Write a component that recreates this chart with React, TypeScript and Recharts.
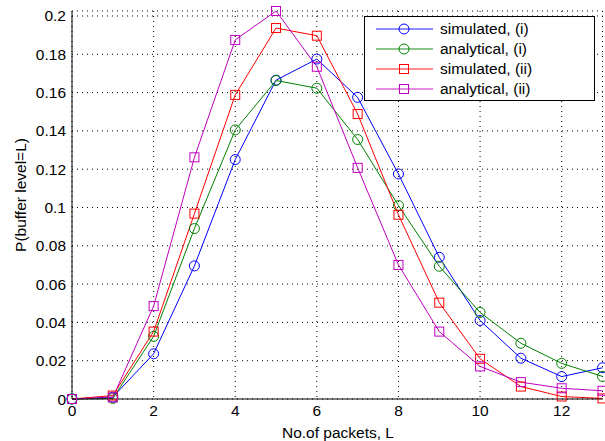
import React from "react";
import { LineChart, Line, XAxis, YAxis, CartesianGrid, Legend } from "recharts";

const packets = [0, 1, 2, 3, 4, 5, 6, 7, 8, 9, 10, 11, 12, 13];
const simulatedI = [0, 0.001, 0.0236, 0.0695, 0.125, 0.1665, 0.1775, 0.1575, 0.1175, 0.074, 0.041, 0.0213, 0.0117, 0.0163];
const analyticalI = [0, 0.0003, 0.0327, 0.089, 0.1405, 0.1663, 0.1623, 0.1355, 0.101, 0.0693, 0.0452, 0.0291, 0.0186, 0.0118];
const simulatedII = [0, 0.0018, 0.0352, 0.0968, 0.1588, 0.1937, 0.1897, 0.1488, 0.0962, 0.0503, 0.021, 0.0065, 0.0013, 0.0003];
const analyticalII = [0, 0.0008, 0.0485, 0.1262, 0.1875, 0.2026, 0.1735, 0.1207, 0.07, 0.0352, 0.017, 0.0088, 0.0056, 0.0043];

const xTicks = [0, 2, 4, 6, 8, 10, 12];
const yTicks = [0, 0.02, 0.04, 0.06, 0.08, 0.1, 0.12, 0.14, 0.16, 0.18, 0.2];

// minor tick positions (axis decoration only)
const minorX: number[] = [];
for (let i = 0; i <= 32; i++) minorX.push(Math.round(i * 0.4 * 100) / 100);
const minorY: number[] = [];
for (let i = 0; i <= 50; i++) minorY.push(Math.round(i * 0.004 * 1000) / 1000);

const data = packets.map((L, i) => ({
  L,
  simI: simulatedI[i],
  anaI: analyticalI[i],
  simII: simulatedII[i],
  anaII: analyticalII[i],
}));

const SERIES = [
  { key: "simI", name: "simulated, (i)", color: "#0000ff", marker: "circle" },
  { key: "anaI", name: "analytical, (i)", color: "#008000", marker: "circle" },
  { key: "simII", name: "simulated, (ii)", color: "#ff0000", marker: "square" },
  { key: "anaII", name: "analytical, (ii)", color: "#bf00bf", marker: "square" },
];

const FONT = "'Liberation Sans', Arial, sans-serif";

function marker(kind: string, color: string) {
  return (props: any) => {
    const { cx, cy, index } = props;
    if (cx == null || cy == null) return <g key={index} />;
    if (kind === "circle") {
      return <circle key={index} cx={cx} cy={cy} r={5} fill="none" stroke={color} strokeWidth={1} />;
    }
    return <rect key={index} x={cx - 4.5} y={cy - 4.5} width={9} height={9} fill="none" stroke={color} strokeWidth={1} />;
  };
}

const NoLabel = () => <g />;

function LegendBox() {
  return (
    <div
      style={{
        position: "relative",
        width: 231,
        height: 85,
        boxSizing: "border-box",
        border: "1.5px solid #000",
        background: "#fff",
        fontFamily: FONT,
        fontSize: 15.5,
        color: "#000",
      }}
    >
      {SERIES.map((s, i) => (
        <div key={s.key} style={{ position: "absolute", left: 10, top: 2 + i * 20, height: 20, display: "flex", alignItems: "center" }}>
          <svg width={60} height={20} style={{ display: "block" }}>
            <line x1={1} y1={10} x2={58} y2={10} stroke={s.color} strokeWidth={1.5} strokeOpacity={0.6} />
            {s.marker === "circle" ? (
              <circle cx={29} cy={10} r={5} fill="none" stroke={s.color} />
            ) : (
              <rect x={24.5} y={5.5} width={9} height={9} fill="none" stroke={s.color} />
            )}
          </svg>
          <span style={{ marginLeft: 5, lineHeight: "20px", whiteSpace: "nowrap" }}>{s.name}</span>
        </div>
      ))}
    </div>
  );
}

export default function App() {
  return (
    <div style={{ position: "absolute", left: 0, top: 0, width: 605, height: 441, background: "#fff" }}>
      <LineChart width={605} height={441} data={data} margin={{ top: 11, right: 2.5, bottom: 0, left: 0 }}>
        <CartesianGrid stroke="#000" strokeDasharray="1 4" strokeWidth={1} />
        <XAxis
          dataKey="L"
          type="number"
          domain={[0, 13]}
          ticks={xTicks}
          height={42}
          stroke="#000"
          tickLine={false}
          tickMargin={0}
          tick={{ fill: "#000", fontSize: 15.5, fontFamily: FONT }}
        />
        <XAxis
          xAxisId="minor"
          dataKey="L"
          type="number"
          domain={[0, 13]}
          ticks={minorX}
          interval={0}
          height={0}
          mirror
          axisLine={false}
          tick={NoLabel}
          tickSize={3}
          tickLine={{ stroke: "#000", strokeWidth: 1 }}
        />
        <YAxis
          type="number"
          domain={[0, 0.2026]}
          ticks={yTicks}
          width={72}
          stroke="#000"
          tickLine={false}
          tickMargin={0}
          tickFormatter={(v: number) => String(v)}
          tick={{ fill: "#000", fontSize: 15.5, fontFamily: FONT }}
        />
        <YAxis
          yAxisId="minor"
          type="number"
          domain={[0, 0.2026]}
          ticks={minorY}
          interval={0}
          width={0}
          mirror
          axisLine={false}
          tick={NoLabel}
          tickSize={3}
          tickLine={{ stroke: "#000", strokeWidth: 1 }}
        />
        <Legend verticalAlign="middle" align="center" wrapperStyle={{ left: 364, top: 16, width: 231 }} content={() => <LegendBox />} />
        {SERIES.map((s) => (
          <Line
            key={s.key}
            type="linear"
            dataKey={s.key}
            name={s.name}
            stroke={s.color}
            strokeWidth={1}
            dot={marker(s.marker, s.color)}
            activeDot={false}
            isAnimationActive={false}
          />
        ))}
        <text x={338} y={438} textAnchor="middle" fontSize={15.5} fontFamily={FONT} fill="#000">
          No.of packets, L
        </text>
        <text x={20} y={195} transform="rotate(-90 20 195)" textAnchor="middle" dominantBaseline="central" fontSize={15.5} fontFamily={FONT} fill="#000">
          P(buffer level=L)
        </text>
      </LineChart>
    </div>
  );
}
